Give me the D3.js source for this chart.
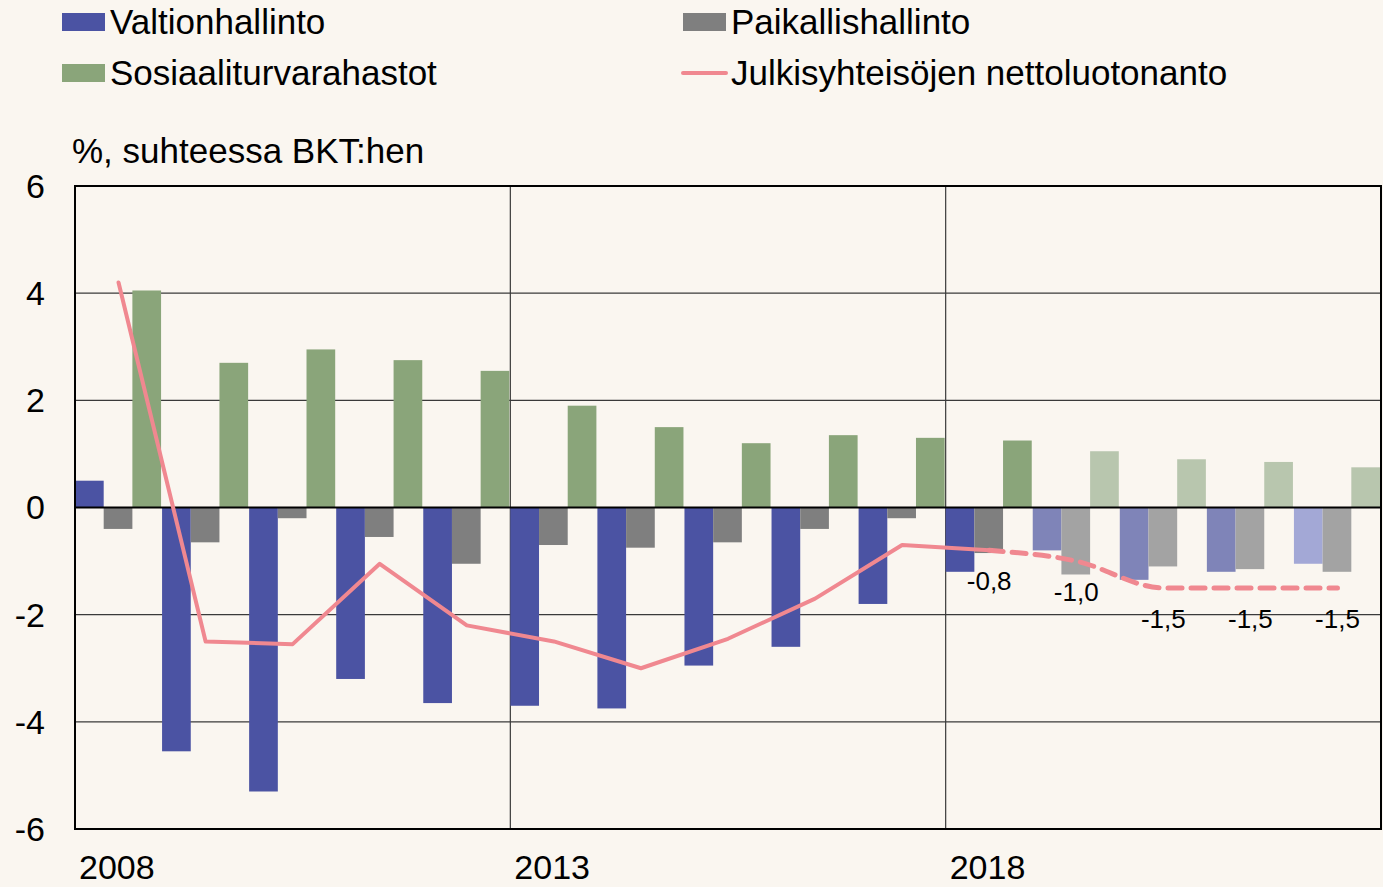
<!DOCTYPE html>
<html>
<head>
<meta charset="utf-8">
<script src="https://cdn.jsdelivr.net/npm/d3@7"></script>
<style>
  html, body { margin: 0; padding: 0; background: #faf6f0; }
  svg { display: block; font-family: "Liberation Sans", Arial, sans-serif; }
</style>
</head>
<body>
<div id="chart"></div>
<script>
// Data
const years = [2008, 2009, 2010, 2011, 2012, 2013, 2014, 2015, 2016, 2017, 2018, 2019, 2020, 2021, 2022];
const valtionhallinto = [0.5, -4.55, -5.3, -3.2, -3.65, -3.7, -3.75, -2.95, -2.6, -1.8, -1.2, -0.8, -1.35, -1.2, -1.05];
const paikallishallinto = [-0.4, -0.65, -0.2, -0.55, -1.05, -0.7, -0.75, -0.65, -0.4, -0.2, -0.85, -1.25, -1.1, -1.15, -1.2];
const sosiaaliturva = [4.05, 2.7, 2.95, 2.75, 2.55, 1.9, 1.5, 1.2, 1.35, 1.3, 1.25, 1.05, 0.9, 0.85, 0.75];
const nettoluotonanto = [4.2, -2.5, -2.55, -1.05, -2.2, -2.5, -3.0, -2.45, -1.7, -0.7, -0.8, -1.0, -1.5, -1.5, -1.5];
const labelYears = [2018, 2019, 2020, 2021, 2022];
const labelTexts = ["-0,8", "-1,0", "-1,5", "-1,5", "-1,5"];
const yearTicks = [2008, 2013, 2018];
const yTicks = [-6, -4, -2, 0, 2, 4, 6];
const forecastStart = 2019;

const seriesNames = ["Valtionhallinto", "Paikallishallinto", "Sosiaaliturvarahastot"];
const seriesValues = [valtionhallinto, paikallishallinto, sosiaaliturva];
const colors = ["#4b53a3", "#7f7f7f", "#8aa57a"];
const lightColors = ["#7f84b8", "#a3a3a3", "#b8c6ae"];
const lineColor = "#f08890";

const width = 1383, height = 887;
const margin = { top: 186, right: 2, bottom: 58, left: 75 };
const plotW = width - margin.left - margin.right;
const plotH = height - margin.top - margin.bottom;

const svg = d3.select("#chart").append("svg")
    .attr("width", width)
    .attr("height", height);

svg.append("rect").attr("width", width).attr("height", height).attr("fill", "#faf6f0");

const g = svg.append("g").attr("transform", `translate(${margin.left},${margin.top})`);

// Scales
const x = d3.scaleBand().domain(years).range([0, plotW]).padding(0);
const xSub = d3.scaleBand().domain(seriesNames).range([0, x.bandwidth() - 1]).padding(0);
const y = d3.scaleLinear().domain([-6, 6]).range([plotH, 0]);

// Gridlines
g.selectAll(".hgrid")
    .data(yTicks.filter(d => d !== 0 && Math.abs(d) !== 6))
    .enter().append("line")
    .attr("x1", 0).attr("x2", plotW)
    .attr("y1", d => y(d)).attr("y2", d => y(d))
    .attr("stroke", "#3a3a3a").attr("stroke-width", 1.2);

g.selectAll(".vgrid")
    .data(yearTicks.slice(1))
    .enter().append("line")
    .attr("x1", d => x(d)).attr("x2", d => x(d))
    .attr("y1", 0).attr("y2", plotH)
    .attr("stroke", "#3a3a3a").attr("stroke-width", 1.2);

// Bars
seriesNames.forEach((name, si) => {
    g.selectAll(".bar-" + si)
        .data(years.map((yr, i) => ({ year: yr, value: seriesValues[si][i] })))
        .enter().append("rect")
        .attr("x", d => x(d.year) + xSub(name))
        .attr("width", xSub.bandwidth())
        .attr("y", d => y(Math.max(0, d.value)))
        .attr("height", d => Math.abs(y(d.value) - y(0)))
        .attr("fill", d => {
            if (d.year < forecastStart) return colors[si];
            if (si === 0 && d.year === 2022) return "#a3a8d6";
            return lightColors[si];
        });
});

// Zero line and frame
g.append("line")
    .attr("x1", 0).attr("x2", plotW)
    .attr("y1", y(0)).attr("y2", y(0))
    .attr("stroke", "#000").attr("stroke-width", 2.2);

g.append("rect")
    .attr("width", plotW).attr("height", plotH)
    .attr("fill", "none").attr("stroke", "#000").attr("stroke-width", 2);

// Line
const lineData = years.map((yr, i) => ({ year: yr, value: nettoluotonanto[i] }));
const line = d3.line()
    .x(d => x(d.year) + x.bandwidth() / 2)
    .y(d => y(d.value));

g.append("path")
    .datum(lineData.filter(d => d.year <= 2018))
    .attr("fill", "none")
    .attr("stroke", lineColor)
    .attr("stroke-width", 4)
    .attr("stroke-linejoin", "round")
    .attr("stroke-linecap", "round")
    .attr("d", line);

g.append("path")
    .datum(lineData.filter(d => d.year >= 2018))
    .attr("fill", "none")
    .attr("stroke", lineColor)
    .attr("stroke-width", 5)
    .attr("stroke-dasharray", "14 9")
    .attr("stroke-linecap", "round")
    .attr("d", line.curve(d3.curveMonotoneX));

// Data labels
g.selectAll(".dlabel")
    .data(labelYears.map((yr, i) => ({ year: yr, text: labelTexts[i], value: nettoluotonanto[years.indexOf(yr)] })))
    .enter().append("text")
    .attr("x", d => x(d.year) + x.bandwidth() / 2)
    .attr("y", d => y(d.value) + 31)
    .attr("dy", "0.35em")
    .attr("text-anchor", "middle")
    .attr("font-size", 26)
    .attr("fill", "#000")
    .text(d => d.text);

// Y tick labels
svg.selectAll(".ytick")
    .data(yTicks)
    .enter().append("text")
    .attr("x", 45)
    .attr("y", d => margin.top + y(d))
    .attr("dy", "0.35em")
    .attr("text-anchor", "end")
    .attr("font-size", 34)
    .text(d => d);

// X tick labels
svg.selectAll(".xtick")
    .data(yearTicks)
    .enter().append("text")
    .attr("x", d => margin.left + x(d) + 4)
    .attr("y", 879)
    .attr("font-size", 34)
    .text(d => d);

// Axis title
svg.append("text")
    .attr("x", 72)
    .attr("y", 163)
    .attr("font-size", 35)
    .text("%, suhteessa BKT:hen");

// Legend
const legendItems = [
    { name: "Valtionhallinto", type: "rect", color: colors[0], x: 62, y: 22 },
    { name: "Paikallishallinto", type: "rect", color: colors[1], x: 683, y: 22 },
    { name: "Sosiaaliturvarahastot", type: "rect", color: colors[2], x: 62, y: 73 },
    { name: "Julkisyhteisöjen nettoluotonanto", type: "line", color: lineColor, x: 683, y: 73 }
];

const legend = svg.selectAll(".legend")
    .data(legendItems)
    .enter().append("g")
    .attr("transform", d => `translate(${d.x},${d.y})`);

legend.filter(d => d.type === "rect").append("rect")
    .attr("x", 0).attr("y", -9)
    .attr("width", 43).attr("height", 18)
    .attr("fill", d => d.color);

legend.filter(d => d.type === "line").append("line")
    .attr("x1", 0).attr("x2", 43)
    .attr("y1", 0).attr("y2", 0)
    .attr("stroke", d => d.color)
    .attr("stroke-width", 4)
    .attr("stroke-linecap", "round");

legend.append("text")
    .attr("x", 48)
    .attr("y", 12)
    .attr("font-size", 35)
    .text(d => d.name);
</script>
</body>
</html>
